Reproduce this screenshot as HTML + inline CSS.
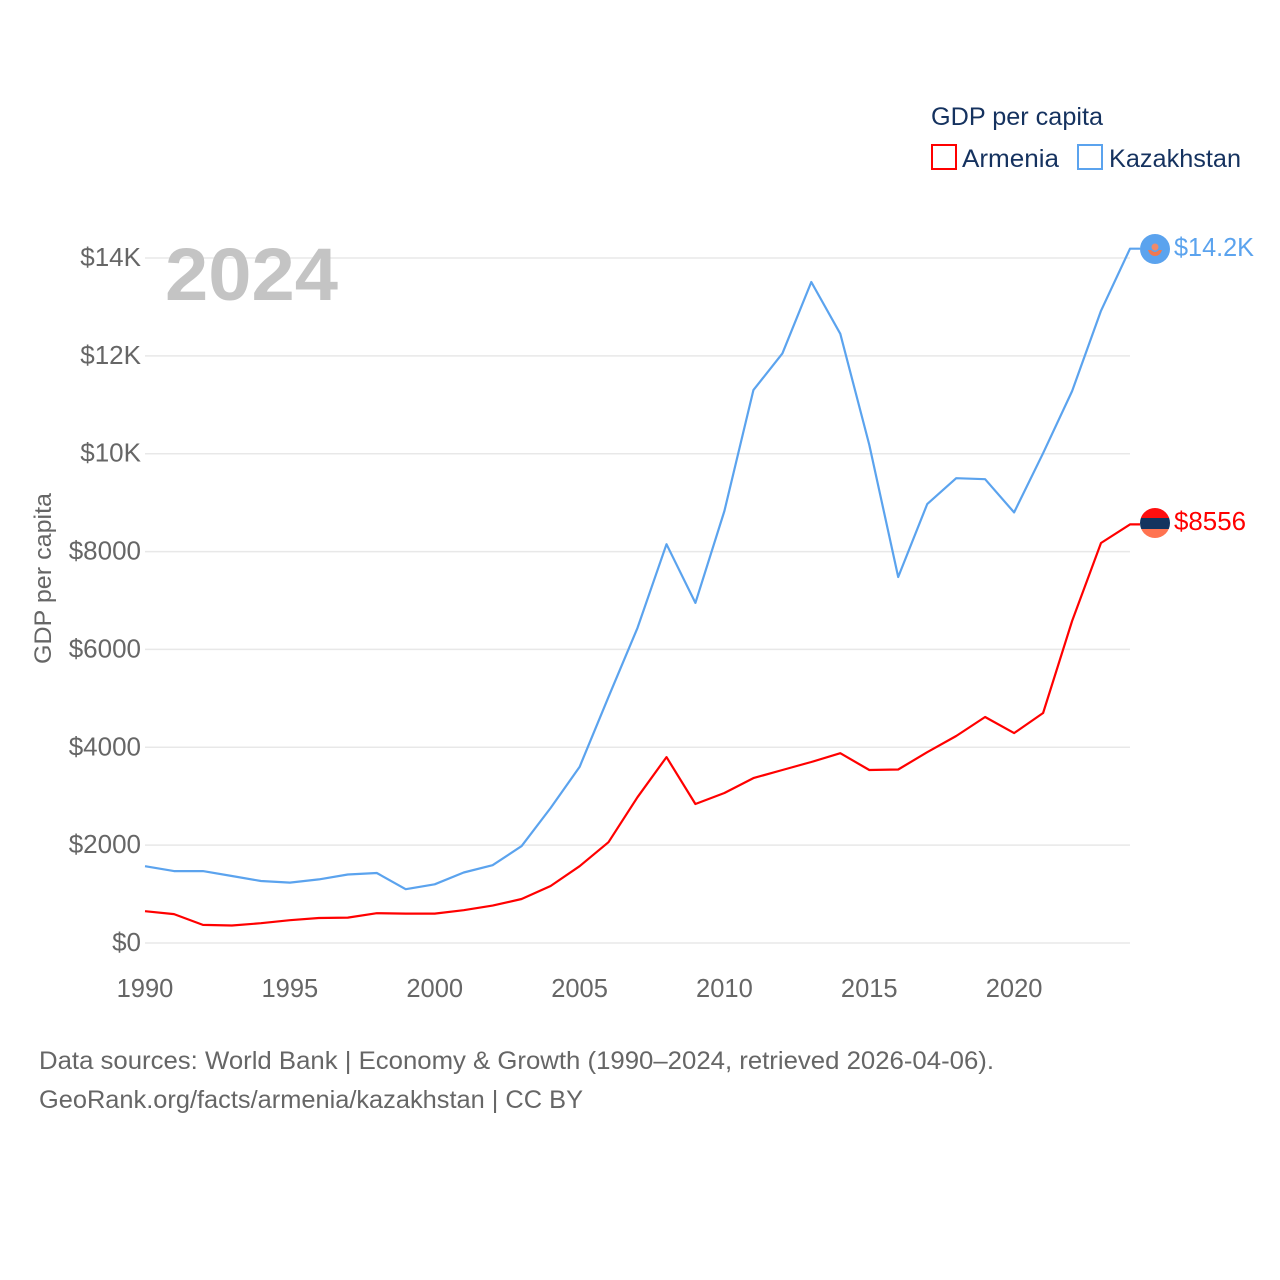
<!DOCTYPE html>
<html lang="en">
<head>
<meta charset="utf-8">
<title>GDP per capita: Armenia and Kazakhstan</title>
<style>
html,body{margin:0;padding:0;background:#fff;}
svg{display:block;}
text{font-family:"Liberation Sans",sans-serif;}
</style>
</head>
<body>
<svg id="chart" xmlns="http://www.w3.org/2000/svg" width="1280" height="1280" viewBox="0 0 1280 1280">
  <rect width="1280" height="1280" fill="#ffffff"/>
  <g id="grid"></g>
  <g id="yticks"></g>
  <g id="xticks"></g>
  <text x="165" y="300" font-size="74" font-weight="700" fill="#c4c4c4" textLength="173" lengthAdjust="spacingAndGlyphs">2024</text>
  <text transform="translate(51,664) rotate(-90)" font-size="24" fill="#666666" textLength="171" lengthAdjust="spacingAndGlyphs">GDP per capita</text>
  <g id="series"></g>

  <g>
    <circle cx="1155" cy="249" r="15" fill="#5ba3ee"/>
    <circle cx="1155" cy="247" r="3.5" fill="#f08a6a"/>
    <path d="M1148 250 h3 q4 4 8 0 h3 q-2 6 -7 6 q-5 0 -7 -6z" fill="#f0784f"/>
  </g>
  <g>
    <clipPath id="armenia-clip"><circle cx="1155" cy="523" r="15"/></clipPath>
    <g clip-path="url(#armenia-clip)">
      <rect x="1140" y="508" width="30" height="10" fill="#ff0f0f"/>
      <rect x="1140" y="518" width="30" height="11" fill="#14345f"/>
      <rect x="1140" y="529" width="30" height="10" fill="#ff7350"/>
    </g>
  </g>
  <text x="1174" y="256" font-size="25.5" fill="#5ba3ee" textLength="80" lengthAdjust="spacingAndGlyphs">$14.2K</text>
  <text x="1174" y="530" font-size="25.5" fill="#ff0000" textLength="72" lengthAdjust="spacingAndGlyphs">$8556</text>

  <g>
    <text x="931" y="125" font-size="25" fill="#15325f" textLength="172" lengthAdjust="spacingAndGlyphs">GDP per capita</text>
    <g>
      <rect x="932" y="145" width="24" height="24" fill="none" stroke="#ff0000" stroke-width="2"/>
      <text x="962" y="167" font-size="25" fill="#15325f" textLength="97" lengthAdjust="spacingAndGlyphs">Armenia</text>
    </g>
    <g>
      <rect x="1078" y="145" width="24" height="24" fill="none" stroke="#5ba3ee" stroke-width="2"/>
      <text x="1109" y="167" font-size="25" fill="#15325f" textLength="132" lengthAdjust="spacingAndGlyphs">Kazakhstan</text>
    </g>
  </g>

  <text x="39" y="1069" font-size="25" fill="#666666" textLength="955" lengthAdjust="spacingAndGlyphs">Data sources: World Bank | Economy &amp; Growth (1990–2024, retrieved 2026-04-06).</text>
  <text x="39" y="1108" font-size="25" fill="#666666" textLength="544" lengthAdjust="spacingAndGlyphs">GeoRank.org/facts/armenia/kazakhstan | CC BY</text>
</svg>
<script>
const years = [1990,1991,1992,1993,1994,1995,1996,1997,1998,1999,2000,2001,2002,2003,2004,2005,2006,2007,2008,2009,2010,2011,2012,2013,2014,2015,2016,2017,2018,2019,2020,2021,2022,2023,2024];
const kazakhstanValues = [1570,1470,1470,1370,1267,1235,1300,1400,1430,1100,1200,1440,1590,1980,2760,3600,5030,6440,8150,6950,8830,11300,12050,13510,12450,10180,7480,8970,9500,9480,8800,10010,11280,12920,14190];
const armeniaValues = [650,590,370,357,405,465,510,520,610,600,600,670,765,900,1165,1570,2060,2980,3800,2840,3065,3370,3535,3700,3880,3535,3545,3900,4230,4620,4290,4700,6580,8175,8556];
const yTickValues = [0,2000,4000,6000,8000,10000,12000,14000];
const yTickLabels = ["$0","$2000","$4000","$6000","$8000","$10K","$12K","$14K"];
const xTickValues = [1990,1995,2000,2005,2010,2015,2020];

const NS = "http://www.w3.org/2000/svg";
function xScale(year){ return 145 + (year - 1990) * (1130 - 145) / 34; }
function yScale(value){ return 943 - value * (943 - 258) / 14000; }

const gridGroup = document.getElementById("grid");
const yGroup = document.getElementById("yticks");
const xGroup = document.getElementById("xticks");
const seriesGroup = document.getElementById("series");

yTickValues.forEach(function(value, i){
  const line = document.createElementNS(NS, "line");
  
  
  line.setAttribute("x1", 145);
  line.setAttribute("x2", 1130);
  line.setAttribute("y1", yScale(value));
  line.setAttribute("y2", yScale(value));
  line.setAttribute("stroke", "#e8e8e8");
  line.setAttribute("stroke-width", "1.5");
  gridGroup.appendChild(line);

  const label = document.createElementNS(NS, "text");
  
  
  label.setAttribute("x", 141);
  label.setAttribute("y", yScale(value) + 8);
  label.setAttribute("text-anchor", "end");
  label.setAttribute("font-size", "26");
  label.setAttribute("fill", "#666666");
  label.textContent = yTickLabels[i];
  yGroup.appendChild(label);
});

xTickValues.forEach(function(year){
  const label = document.createElementNS(NS, "text");
  
  
  label.setAttribute("x", xScale(year));
  label.setAttribute("y", 997);
  label.setAttribute("text-anchor", "middle");
  label.setAttribute("font-size", "25.5");
  label.setAttribute("fill", "#666666");
  label.textContent = String(year);
  xGroup.appendChild(label);
});

function drawSeries(values, color, name){
  const points = years.map(function(year, i){ return xScale(year).toFixed(1) + "," + yScale(values[i]).toFixed(1); });
  const last = values[values.length - 1];
  points.push((xScale(years[years.length - 1]) + 10).toFixed(1) + "," + yScale(last).toFixed(1));
  const path = document.createElementNS(NS, "polyline");
  
  
  path.setAttribute("points", points.join(" "));
  path.setAttribute("fill", "none");
  path.setAttribute("stroke", color);
  path.setAttribute("stroke-width", "2.2");
  path.setAttribute("stroke-linejoin", "round");
  seriesGroup.appendChild(path);
}
drawSeries(kazakhstanValues, "#5ba3ee", "kazakhstan-line");
drawSeries(armeniaValues, "#ff0000", "armenia-line");
</script>
</body>
</html>
